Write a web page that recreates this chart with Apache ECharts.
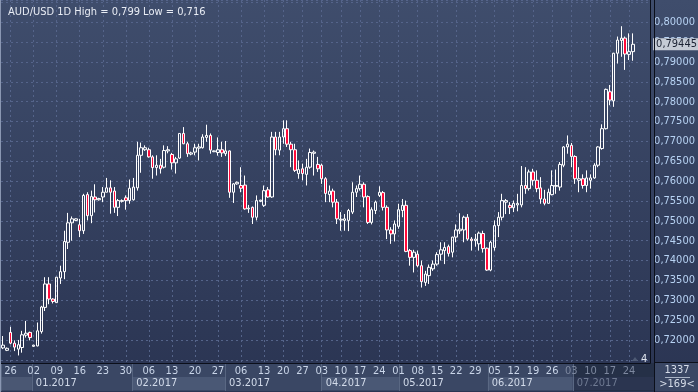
<!DOCTYPE html>
<html><head><meta charset="utf-8">
<script src="https://cdn.jsdelivr.net/npm/echarts@6/dist/echarts.min.js"></script>
<style>html,body{margin:0;padding:0;background:#2f3a57}#c{width:698px;height:392px}</style>
</head><body><div id="c"></div>
<script>
const dates = [
'2016-12-23','2016-12-25','2016-12-26','2016-12-27','2016-12-28','2016-12-29','2016-12-30','2016-12-31',
'2017-01-02','2017-01-03','2017-01-04','2017-01-05','2017-01-06','2017-01-08',
'2017-01-09','2017-01-10','2017-01-11','2017-01-12','2017-01-13','2017-01-15',
'2017-01-16','2017-01-17','2017-01-18','2017-01-19','2017-01-20','2017-01-22',
'2017-01-23','2017-01-24','2017-01-25','2017-01-26','2017-01-27','2017-01-29',
'2017-01-30','2017-01-31','2017-02-01','2017-02-02','2017-02-03','2017-02-05',
'2017-02-06','2017-02-07','2017-02-08','2017-02-09','2017-02-10','2017-02-12',
'2017-02-13','2017-02-14','2017-02-15','2017-02-16','2017-02-17','2017-02-19',
'2017-02-20','2017-02-21','2017-02-22','2017-02-23','2017-02-24','2017-02-26',
'2017-02-27','2017-02-28','2017-03-01','2017-03-02','2017-03-03','2017-03-05',
'2017-03-06','2017-03-07','2017-03-08','2017-03-09','2017-03-10','2017-03-12',
'2017-03-13','2017-03-14','2017-03-15','2017-03-16','2017-03-17',
'2017-03-20','2017-03-21','2017-03-22','2017-03-23','2017-03-24',
'2017-03-27','2017-03-28','2017-03-29','2017-03-30','2017-03-31',
'2017-04-03','2017-04-04','2017-04-05','2017-04-06','2017-04-07',
'2017-04-10','2017-04-11','2017-04-12','2017-04-13','2017-04-14',
'2017-04-17','2017-04-18','2017-04-19','2017-04-20','2017-04-21',
'2017-04-24','2017-04-25','2017-04-26','2017-04-27','2017-04-28',
'2017-05-01','2017-05-02','2017-05-03','2017-05-04','2017-05-05',
'2017-05-08','2017-05-09','2017-05-10','2017-05-11','2017-05-12',
'2017-05-15','2017-05-16','2017-05-17','2017-05-18','2017-05-19',
'2017-05-22','2017-05-23','2017-05-24','2017-05-25','2017-05-26',
'2017-05-29','2017-05-30','2017-05-31','2017-06-01','2017-06-02',
'2017-06-05','2017-06-06','2017-06-07','2017-06-08','2017-06-09',
'2017-06-12','2017-06-13','2017-06-14','2017-06-15','2017-06-16',
'2017-06-19','2017-06-20','2017-06-21','2017-06-22','2017-06-23',
'2017-06-26','2017-06-27','2017-06-28','2017-06-29','2017-06-30',
'2017-07-03','2017-07-04','2017-07-05','2017-07-06','2017-07-07',
'2017-07-10','2017-07-11','2017-07-12','2017-07-13','2017-07-14',
'2017-07-17','2017-07-18','2017-07-19','2017-07-20','2017-07-21',
'2017-07-24','2017-07-25','2017-07-26','2017-07-27','2017-07-28',
'2017-07-31'
];
const open = [
0.7180,0.7174,0.7219,0.7192,0.7177,0.7181,0.7212,0.7219,0.7184,0.7185,
0.7221,0.7282,0.7341,0.7303,0.7294,0.7356,0.7372,0.7446,0.7495,0.7501,
0.7490,0.7475,0.7566,0.7513,0.7560,0.7553,0.7560,0.7572,0.7583,0.7575,
0.7534,0.7549,0.7558,0.7551,0.7553,0.7583,0.7665,0.7679,0.7679,0.7661,
0.7634,0.7640,0.7635,0.7676,0.7667,0.7646,0.7658,0.7720,0.7694,0.7668,
0.7673,0.7683,0.7684,0.7710,0.7715,0.7674,0.7672,0.7679,0.7669,0.7676,
0.7572,0.7593,0.7589,0.7590,0.7530,0.7534,0.7509,0.7549,0.7539,0.7578,
0.7560,0.7711,0.7678,0.7711,0.7732,0.7693,0.7679,0.7619,0.7631,0.7617,
0.7635,0.7670,0.7642,0.7640,0.7606,0.7566,0.7575,0.7547,0.7502,0.7501,
0.7501,0.7522,0.7572,0.7581,0.7592,0.7561,0.7496,0.7526,0.7564,0.7571,
0.7534,0.7477,0.7467,0.7486,0.7526,0.7539,0.7425,0.7408,0.7416,0.7387,
0.7345,0.7362,0.7379,0.7391,0.7416,0.7425,0.7435,0.7421,0.7459,0.7475,
0.7477,0.7509,0.7454,0.7450,0.7442,0.7468,0.7431,0.7376,0.7433,0.7488,
0.7509,0.7547,0.7539,0.7533,0.7540,0.7540,0.7589,0.7581,0.7623,0.7602,
0.7583,0.7555,0.7544,0.7566,0.7587,0.7585,0.7640,0.7686,0.7690,0.7662,
0.7602,0.7606,0.7589,0.7602,0.7608,0.7640,0.7682,0.7732,0.7825,0.7802,
0.7922,0.7954,0.7960,0.7919,0.7926
];
const close = [
0.7187,0.7179,0.7192,0.7182,0.7188,0.7213,0.7217,0.7206,0.7187,0.7223,
0.7283,0.7341,0.7303,0.7297,0.7358,0.7372,0.7448,0.7495,0.7505,0.7505,
0.7475,0.7564,0.7513,0.7561,0.7553,0.7556,0.7572,0.7583,0.7572,0.7534,
0.7551,0.7551,0.7551,0.7582,0.7585,0.7665,0.7684,0.7684,0.7661,0.7634,
0.7640,0.7631,0.7677,0.7679,0.7646,0.7656,0.7720,0.7694,0.7669,0.7671,
0.7684,0.7686,0.7711,0.7715,0.7678,0.7676,0.7679,0.7671,0.7676,0.7572,
0.7593,0.7597,0.7582,0.7530,0.7532,0.7509,0.7551,0.7552,0.7576,0.7560,
0.7711,0.7679,0.7711,0.7732,0.7693,0.7679,0.7627,0.7629,0.7619,0.7635,
0.7672,0.7673,0.7631,0.7606,0.7569,0.7575,0.7547,0.7505,0.7504,0.7505,
0.7526,0.7572,0.7581,0.7592,0.7560,0.7496,0.7528,0.7547,0.7572,0.7534,
0.7477,0.7467,0.7492,0.7528,0.7539,0.7423,0.7408,0.7421,0.7387,0.7347,
0.7366,0.7383,0.7391,0.7415,0.7427,0.7433,0.7418,0.7459,0.7477,0.7479,
0.7509,0.7454,0.7450,0.7454,0.7469,0.7430,0.7376,0.7446,0.7488,0.7509,
0.7551,0.7551,0.7533,0.7544,0.7544,0.7589,0.7581,0.7623,0.7602,0.7581,
0.7555,0.7544,0.7572,0.7589,0.7589,0.7642,0.7686,0.7693,0.7662,0.7606,
0.7606,0.7589,0.7608,0.7608,0.7640,0.7686,0.7732,0.7831,0.7804,0.7922,
0.7955,0.7960,0.7920,0.7926,0.79445
];
const low = [
0.7177,0.7172,0.7189,0.7172,0.7161,0.7168,0.7206,0.7199,0.7183,0.7184,
0.7216,0.7273,0.7290,0.7292,0.7294,0.7341,0.7353,0.7429,0.7450,0.7499,
0.7459,0.7467,0.7501,0.7494,0.7521,0.7551,0.7547,0.7572,0.7518,0.7520,
0.7512,0.7546,0.7528,0.7543,0.7551,0.7576,0.7621,0.7676,0.7659,0.7606,
0.7614,0.7619,0.7632,0.7670,0.7629,0.7619,0.7656,0.7693,0.7661,0.7665,
0.7665,0.7652,0.7682,0.7699,0.7669,0.7673,0.7664,0.7661,0.7663,0.7558,
0.7545,0.7591,0.7572,0.7528,0.7520,0.7492,0.7501,0.7547,0.7535,0.7558,
0.7558,0.7665,0.7665,0.7694,0.7686,0.7635,0.7623,0.7606,0.7602,0.7589,
0.7631,0.7614,0.7623,0.7593,0.7547,0.7547,0.7534,0.7492,0.7475,0.7475,
0.7474,0.7517,0.7560,0.7576,0.7534,0.7492,0.7491,0.7517,0.7560,0.7526,
0.7454,0.7442,0.7448,0.7480,0.7509,0.7421,0.7387,0.7370,0.7383,0.7332,
0.7336,0.7341,0.7374,0.7387,0.7400,0.7391,0.7410,0.7408,0.7446,0.7467,
0.7446,0.7450,0.7425,0.7435,0.7425,0.7420,0.7374,0.7373,0.7425,0.7459,
0.7501,0.7517,0.7517,0.7522,0.7524,0.7534,0.7568,0.7576,0.7589,0.7572,
0.7543,0.7539,0.7543,0.7564,0.7568,0.7576,0.7635,0.7669,0.7635,0.7593,
0.7572,0.7581,0.7572,0.7581,0.7606,0.7635,0.7679,0.7730,0.7791,0.7787,
0.7896,0.7913,0.7880,0.7905,0.7903
];
const high = [
0.7210,0.7181,0.7233,0.7199,0.7200,0.7223,0.7248,0.7221,0.7188,0.7244,
0.7286,0.7358,0.7358,0.7305,0.7358,0.7387,0.7475,0.7520,0.7511,0.7506,
0.7505,0.7568,0.7572,0.7576,0.7592,0.7558,0.7585,0.7608,0.7602,0.7585,
0.7555,0.7554,0.7564,0.7604,0.7608,0.7699,0.7697,0.7690,0.7684,0.7665,
0.7665,0.7656,0.7690,0.7688,0.7671,0.7661,0.7720,0.7736,0.7699,0.7674,
0.7694,0.7694,0.7718,0.7742,0.7720,0.7677,0.7710,0.7699,0.7701,0.7677,
0.7595,0.7599,0.7635,0.7614,0.7540,0.7536,0.7564,0.7553,0.7589,0.7585,
0.7724,0.7724,0.7724,0.7753,0.7753,0.7699,0.7694,0.7652,0.7644,0.7656,
0.7682,0.7677,0.7661,0.7644,0.7610,0.7589,0.7581,0.7555,0.7522,0.7517,
0.7530,0.7597,0.7589,0.7614,0.7597,0.7564,0.7534,0.7551,0.7587,0.7575,
0.7539,0.7484,0.7501,0.7543,0.7555,0.7551,0.7429,0.7427,0.7425,0.7400,
0.7374,0.7390,0.7400,0.7421,0.7446,0.7446,0.7440,0.7460,0.7491,0.7519,
0.7513,0.7517,0.7459,0.7467,0.7473,0.7475,0.7433,0.7450,0.7501,0.7522,
0.7568,0.7555,0.7547,0.7551,0.7568,0.7638,0.7635,0.7629,0.7631,0.7627,
0.7610,0.7578,0.7581,0.7627,0.7629,0.7648,0.7688,0.7715,0.7696,0.7665,
0.7635,0.7617,0.7627,0.7617,0.7645,0.7688,0.7743,0.7833,0.7842,0.7923,
0.7964,0.7990,0.7964,0.7972,0.7972
];
const yMin = 0.7142, yMax = 0.8056;

const FONT = '"Liberation Sans Narrow", "DejaVu Sans Condensed", "Liberation Sans"';
const FS = 11;
const comma = (v, d) => v.toFixed(d).replace('.', ',');
const isMon = i => new Date(dates[i] + 'T00:00:00Z').getUTCDay() === 1;
const hasData = i => i < open.length;
const isMonthStart = i => i === 0 || dates[i].slice(5, 7) !== dates[i - 1].slice(5, 7);
const isJuly = v => v >= '2017-07-01';
const candles = dates.map((d, i) => hasData(i) ? [open[i], close[i], low[i], high[i]] : '-');
const lastClose = close[close.length - 1];
const gridColor = '#55648a';

const chart = echarts.init(document.getElementById('c'));
chart.setOption({
  animation: false,
  backgroundColor: {type: 'linear', x: 0, y: 0, x2: 0, y2: 1,
    colorStops: [{offset: 0, color: '#3f4d6c'}, {offset: 1, color: '#2a3452'}]},
  title: {
    text: 'AUD/USD 1D High = ' + comma(Math.max(...high), 3) + ' Low = ' + comma(Math.min(...low), 3),
    left: 3, top: 2,
    textStyle: {color: '#e8ecf4', fontSize: FS, fontWeight: 'normal', fontFamily: FONT}
  },
  grid: [
    {left: 1, right: 44, top: 0, bottom: 29},
    {left: 1, right: 44, top: 363, height: 28, show: true, backgroundColor: '#3a4764', borderWidth: 0},
    {left: 1, right: 44, top: 377, height: 13}
  ],
  xAxis: [
    {type: 'category', gridIndex: 0, data: dates, boundaryGap: true,
     axisLine: {show: true, lineStyle: {color: '#0b0f1a', width: 1}},
     axisTick: {show: false},
     axisLabel: {interval: i => isMon(i) && hasData(i), formatter: v => v.slice(8), margin: 3,
       color: v => isJuly(v) ? '#7d889f' : '#c9d5e8', fontSize: FS, fontFamily: FONT},
     splitLine: {show: true, alignWithLabel: true, interval: i => isMon(i) && hasData(i),
       lineStyle: {color: gridColor, type: [2, 3]}}},
    {type: 'category', gridIndex: 1, data: dates, boundaryGap: true,
     axisLine: {show: false}, axisTick: {show: false}, axisLabel: {show: false},
     splitLine: {show: true, interval: i => isMonthStart(i), lineStyle: {color: '#56647f'}},
     splitArea: {show: true, interval: i => isMonthStart(i),
       areaStyle: {color: ['rgba(0,0,0,0)','rgba(0,0,0,0)','rgba(0,0,0,0)','rgba(0,0,0,0)',
                           'rgba(0,0,0,0)','rgba(0,0,0,0)','rgba(0,0,0,0)','rgba(14,20,36,0.45)']}}},
    {type: 'category', gridIndex: 2, data: dates, boundaryGap: true,
     axisLine: {show: false}, axisTick: {show: false},
     axisLabel: {inside: true, margin: 1, align: 'left', padding: [0, 0, 0, 2],
       interval: i => i > 0 && isMonthStart(i),
       formatter: v => v.slice(5, 7) + '.' + v.slice(0, 4),
       color: v => isJuly(v) ? '#6f7a92' : '#d2dbea', fontSize: FS, fontFamily: FONT},
     splitLine: {show: true, interval: i => isMonthStart(i), lineStyle: {color: '#5a6883'}},
     splitArea: {show: true, interval: i => isMonthStart(i),
       areaStyle: {color: ['#4a5773','rgba(0,0,0,0)','#4a5875','rgba(0,0,0,0)',
                           '#4a5875','rgba(0,0,0,0)','#4a5875','#2b3550']}}}
  ],
  yAxis: [
    {type: 'value', gridIndex: 0, position: 'right', min: yMin, max: yMax,
     splitNumber: 18, minInterval: 0.005, maxInterval: 0.005,
     axisLine: {show: true, lineStyle: {color: '#0b0f1a'}},
     axisTick: {show: false},
     axisLabel: {formatter: v => (v > 0.8001 || v < 0.7199) ? '' : comma(v, 5), color: '#b7d2f3', fontSize: FS, fontFamily: FONT,
       margin: 4, showMinLabel: false, showMaxLabel: false},
     splitLine: {show: true, lineStyle: {color: gridColor, type: [2, 3]}}},
    {type: 'value', gridIndex: 1, show: false},
    {type: 'value', gridIndex: 2, show: false}
  ],
  series: [{
    type: 'candlestick', xAxisIndex: 0, yAxisIndex: 0, data: candles, barWidth: 3,
    itemStyle: {color: 'rgba(0,0,0,0)', color0: '#ff0a3a', borderColor: '#ffffff', borderColor0: '#ffffff', borderWidth: 1},
    markLine: {
      silent: true, symbol: 'none', animation: false, z: 10, precision: 5,
      data: [{yAxis: lastClose}],
      lineStyle: {color: 'rgba(0,0,0,0)', width: 0},
      label: {show: true, position: 'end', distance: 3, formatter: p => comma(p.value, 5),
        backgroundColor: '#c5cbd5', color: '#1a2132', fontSize: FS, fontFamily: FONT,
        padding: [1, 2, 0, 3]}
    }
  }],
  graphic: [
    {type: 'rect', left: 0, top: 0, shape: {width: 1, height: 392}, style: {fill: '#8a97b2'}, z: 100},
    {type: 'rect', left: 654, top: 363, shape: {width: 44, height: 28}, style: {fill: '#3a4764'}, z: 100},
    {type: 'rect', left: 654, top: 362, shape: {width: 44, height: 1}, style: {fill: '#0b0f1a'}, z: 101},
    {type: 'rect', left: 654, top: 0, shape: {width: 1, height: 392}, style: {fill: '#0b0f1a'}, z: 101},
    {type: 'text', x: 677, y: 370, style: {text: '1337', fill: '#d5dce8', font: FS + 'px ' + FONT, align: 'center', verticalAlign: 'middle'}, z: 102},
    {type: 'rect', left: 665, top: 377, shape: {width: 25, height: 1}, style: {fill: '#aab4c6'}, z: 102},
    {type: 'text', x: 677, y: 384, style: {text: '>' + dates.length + '<', fill: '#d5dce8', font: FS + 'px ' + FONT, align: 'center', verticalAlign: 'middle'}, z: 102},
    {type: 'polygon', shape: {points: [[632, 361], [635, 357], [638, 361]]}, style: {fill: '#4f5b75'}, z: 102},
    {type: 'text', x: 641, y: 359, style: {text: '4', fill: '#dfe4ee', font: FS + 'px ' + FONT, verticalAlign: 'middle'}, z: 102}
  ]
});
</script>
</body></html>
